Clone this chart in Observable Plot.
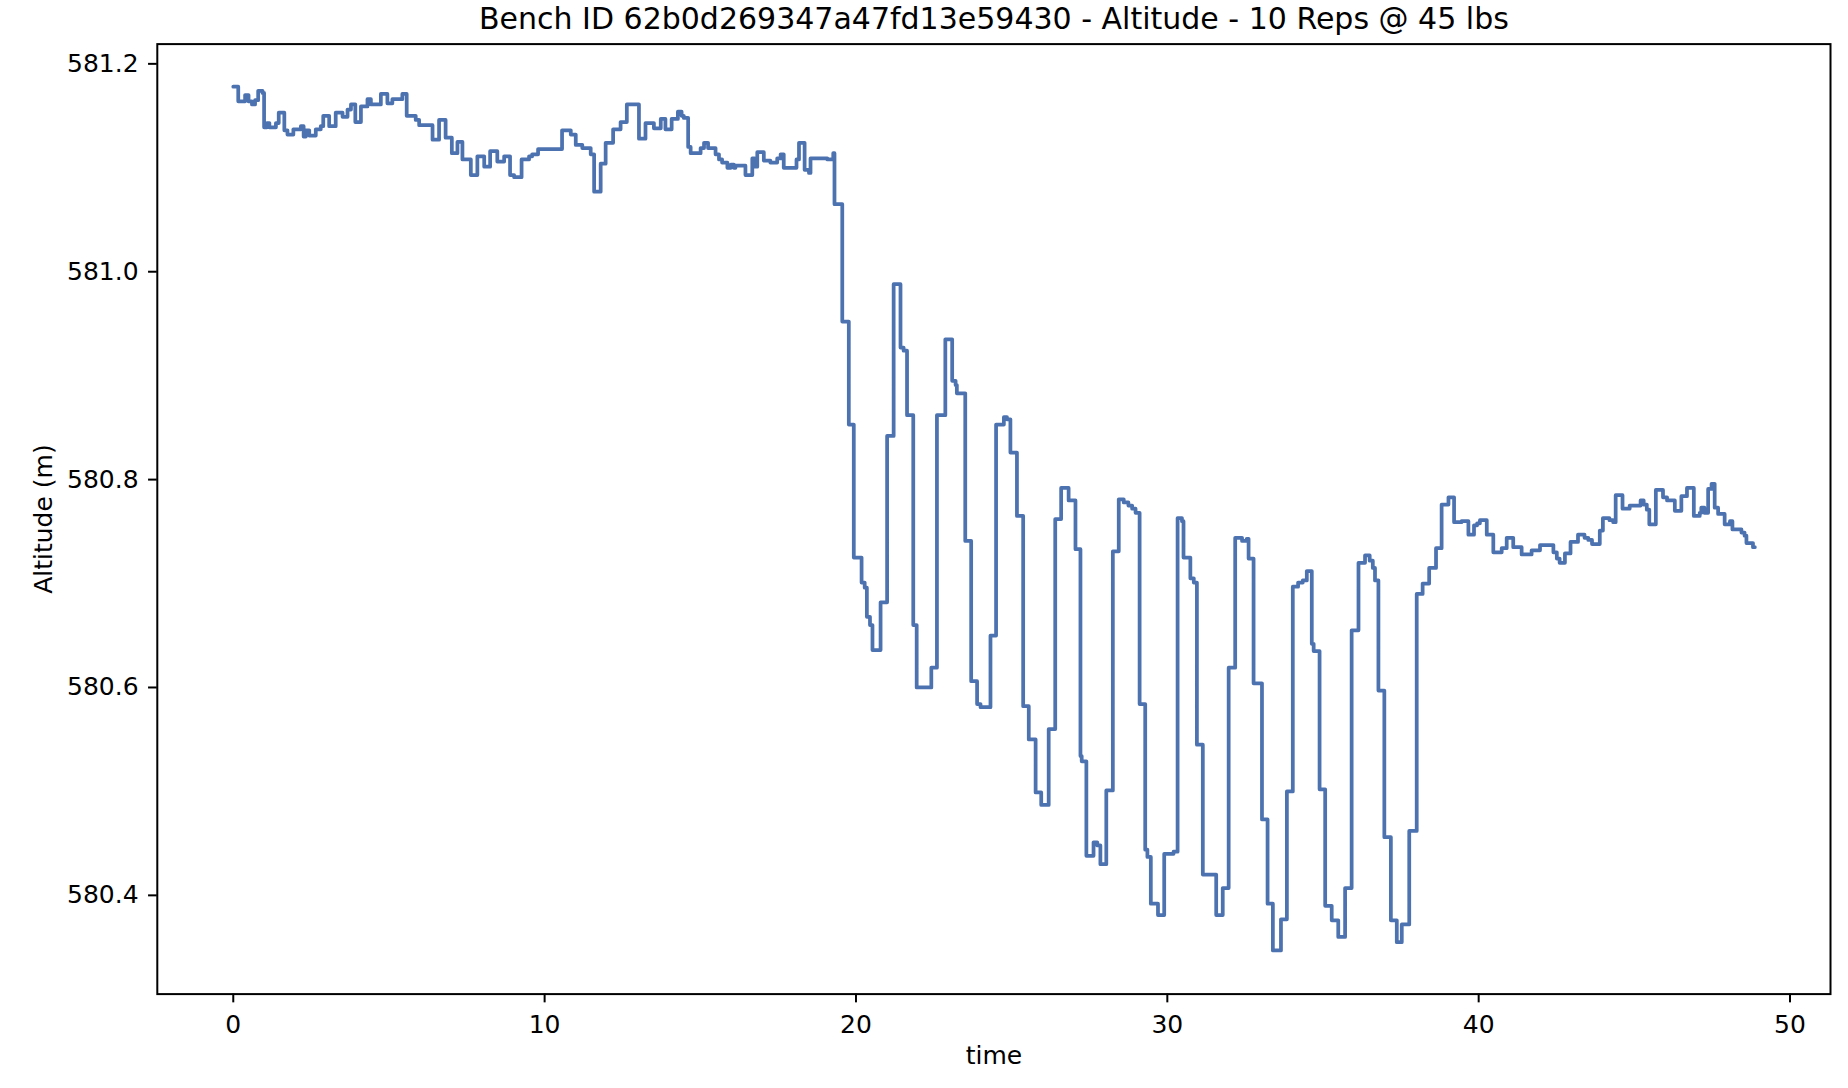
<!DOCTYPE html>
<html><head><meta charset="utf-8">
<script src="https://cdn.jsdelivr.net/npm/d3@7"></script>
<script src="https://cdn.jsdelivr.net/npm/@observablehq/plot@0.6"></script>
<style>body{margin:0;background:#fff}</style>
</head><body><div id="chart"></div>
<script>
const chartTitle = "Bench ID 62b0d269347a47fd13e59430 - Altitude - 10 Reps @ 45 lbs";
const xLabel = "time";
const yLabel = "Altitude (m)";
const xTicks = [0, 10, 20, 30, 40, 50];
const yTicks = [580.4, 580.6, 580.8, 581.0, 581.2];

// change points of the altitude trace (value holds until the next time)
const times = [
  0, 0.16, 0.38, 0.49, 0.60, 0.70, 0.80, 0.94, 0.99, 1.08, 1.16, 1.37, 1.46, 1.64, 1.74, 1.93,
  2.17, 2.26, 2.33, 2.44, 2.65, 2.81, 2.89, 3.08, 3.29, 3.51, 3.67, 3.78, 3.92, 4.10, 4.31, 4.42,
  4.74, 4.95, 5.11, 5.43, 5.57, 5.86, 5.97, 6.40, 6.61, 6.82, 7.02, 7.20, 7.36, 7.63, 7.84, 8.06,
  8.25, 8.48, 8.70, 8.89, 9.02, 9.26, 9.50, 9.60, 9.79, 10.56, 10.84, 11.00, 11.21, 11.48, 11.59,
  11.80, 11.96, 12.20, 12.44, 12.64, 13.03, 13.24, 13.51, 13.73, 13.88, 14.08, 14.28, 14.40, 14.47,
  14.61, 14.69, 15.01, 15.12, 15.25, 15.49, 15.60, 15.70, 15.87, 15.98, 16.08, 16.13, 16.45, 16.67,
  16.75, 16.83, 17.04, 17.25, 17.47, 17.58, 17.68, 18.09, 18.17, 18.35, 18.49, 18.54, 19.08, 19.27,
  19.31, 19.56, 19.77, 19.93, 20.18, 20.28, 20.35, 20.45, 20.53, 20.79, 21.00, 21.21, 21.43, 21.53,
  21.64, 21.84, 21.95, 22.42, 22.60, 22.87, 23.09, 23.20, 23.24, 23.51, 23.70, 23.89, 24.00, 24.32,
  24.50, 24.75, 24.85, 24.96, 25.17, 25.37, 25.55, 25.77, 25.95, 26.19, 26.40, 26.59, 26.83, 27.05,
  27.21, 27.25, 27.40, 27.63, 27.75, 27.85, 28.04, 28.25, 28.44, 28.60, 28.75, 28.87, 28.98, 29.11,
  29.29, 29.36, 29.47, 29.70, 29.90, 30.20, 30.33, 30.47, 30.52, 30.74, 30.85, 30.95, 31.14, 31.57,
  31.78, 31.97, 32.18, 32.40, 32.55, 32.61, 32.77, 33.04, 33.22, 33.39, 33.65, 33.84, 34.03, 34.20,
  34.35, 34.48, 34.64, 34.70, 34.89, 35.07, 35.28, 35.49, 35.71, 35.92, 36.14, 36.35, 36.50, 36.60,
  36.67, 36.78, 36.97, 37.18, 37.37, 37.53, 37.77, 38.01, 38.20, 38.41, 38.63, 38.81, 39.03, 39.21,
  39.45, 39.67, 39.85, 39.95, 40.04, 40.26, 40.47, 40.74, 40.90, 41.11, 41.38, 41.70, 41.97, 42.40,
  42.51, 42.60, 42.77, 42.95, 43.19, 43.40, 43.52, 43.64, 43.89, 43.99, 44.20, 44.32, 44.40, 44.62,
  44.85, 45.20, 45.30, 45.40, 45.48, 45.69, 45.92, 46.05, 46.30, 46.51, 46.69, 46.91, 47.10, 47.15,
  47.25, 47.37, 47.48, 47.58, 47.69, 47.90, 48.07, 48.15, 48.44, 48.54, 48.60, 48.81, 48.87
];
const altitude = [
  581.178, 581.164, 581.170, 581.164, 581.161, 581.165, 581.174, 581.172, 581.139, 581.143, 581.139, 581.143, 581.153, 581.136, 581.132, 581.137,
  581.140, 581.130, 581.136, 581.131, 581.137, 581.140, 581.150, 581.140, 581.153, 581.149, 581.156, 581.161, 581.144, 581.159, 581.166, 581.161,
  581.171, 581.162, 581.166, 581.171, 581.150, 581.146, 581.141, 581.127, 581.146, 581.129, 581.114, 581.125, 581.108, 581.093, 581.111, 581.101,
  581.116, 581.106, 581.111, 581.093, 581.091, 581.108, 581.111, 581.113, 581.118, 581.136, 581.132, 581.122, 581.119, 581.113, 581.077,
  581.104, 581.124, 581.137, 581.144, 581.161, 581.128, 581.143, 581.138, 581.147, 581.137, 581.147, 581.154, 581.150, 581.148,
  581.120, 581.114, 581.119, 581.124, 581.119, 581.113, 581.108, 581.105, 581.100, 581.103, 581.100, 581.102, 581.093, 581.109,
  581.101, 581.115, 581.107, 581.105, 581.109, 581.113, 581.100, 581.108, 581.124, 581.098, 581.095, 581.109, 581.108, 581.114,
  581.065, 580.952, 580.853, 580.725, 580.701, 580.696, 580.668, 580.660, 580.636, 580.682, 580.842, 580.988, 580.927, 580.924,
  580.862, 580.660, 580.600, 580.619, 580.862, 580.935, 580.895, 580.891, 580.883, 580.741, 580.606, 580.584, 580.581, 580.650,
  580.853, 580.860, 580.858, 580.826, 580.765, 580.582, 580.550, 580.499, 580.487, 580.560, 580.762, 580.792, 580.780, 580.733,
  580.534, 580.529, 580.438, 580.451, 580.448, 580.430, 580.501, 580.731, 580.781, 580.778, 580.775, 580.772, 580.768, 580.584,
  580.444, 580.437, 580.392, 580.381, 580.440, 580.442, 580.763, 580.760, 580.725, 580.705, 580.701, 580.545, 580.420, 580.381,
  580.407, 580.619, 580.744, 580.741, 580.743, 580.724, 580.604, 580.473, 580.392, 580.347, 580.377, 580.500, 580.697, 580.701,
  580.703, 580.712, 580.642, 580.635, 580.502, 580.390, 580.376, 580.360, 580.407, 580.655, 580.720, 580.727, 580.722, 580.715,
  580.703, 580.597, 580.456, 580.376, 580.355, 580.372, 580.462, 580.690, 580.700, 580.715, 580.734, 580.776, 580.783, 580.759,
  580.760, 580.747, 580.756, 580.758, 580.761, 580.747, 580.730, 580.734, 580.744, 580.735, 580.728, 580.732, 580.737, 580.730,
  580.724, 580.720, 580.729, 580.740, 580.747, 580.744, 580.742, 580.738, 580.751, 580.763, 580.761, 580.759, 580.785, 580.772,
  580.775, 580.780, 580.776, 580.771, 580.757, 580.790, 580.783, 580.780, 580.770, 580.784, 580.792, 580.765, 580.768, 580.773,
  580.768, 580.791, 580.796, 580.773, 580.767, 580.757, 580.760, 580.752, 580.749, 580.746, 580.739, 580.735, 580.735
];

const data = times.map((t, i) => ({time: t, alt: altitude[i]}));
const xDomain = [-2.44, 51.30];
const yDomain = [580.305, 581.219];
const fs = 25;

const chart = Plot.plot({
  width: 1848,
  height: 1088,
  marginTop: 43.6,
  marginBottom: 94.4,
  marginLeft: 156.8,
  marginRight: 18,
  style: {fontFamily: "'DejaVu Sans', sans-serif", fontSize: fs + "px", color: "#000", background: "#fff"},
  x: {domain: xDomain},
  y: {domain: yDomain},
  marks: [
    Plot.lineY(data, {x: "time", y: "alt", curve: "step-after", stroke: "#4c72b0", strokeWidth: 3.75}),
    Plot.frame({stroke: "#000", strokeWidth: 2}),
    Plot.axisX({ticks: xTicks, tickSize: 8.75, tickPadding: 12, label: null, fontSize: fs, strokeWidth: 2}),
    Plot.axisY({ticks: yTicks, tickFormat: d => d.toFixed(1), tickSize: 8.75, tickPadding: 10, label: null, fontSize: fs, strokeWidth: 2}),
    Plot.text([chartTitle], {text: d => d, frameAnchor: "top", dy: -15, lineAnchor: "bottom", fontSize: 30}),
    Plot.text([yLabel], {text: d => d, x: () => xDomain[0], y: () => (yDomain[0] + yDomain[1]) / 2, dx: -105, rotate: -90, textAnchor: "middle", lineAnchor: "bottom", fontSize: fs}),
    Plot.text([xLabel], {text: d => d, frameAnchor: "bottom", dy: 70, lineAnchor: "bottom", fontSize: fs})
  ]
});
document.getElementById("chart").appendChild(chart);
</script>
</body></html>
